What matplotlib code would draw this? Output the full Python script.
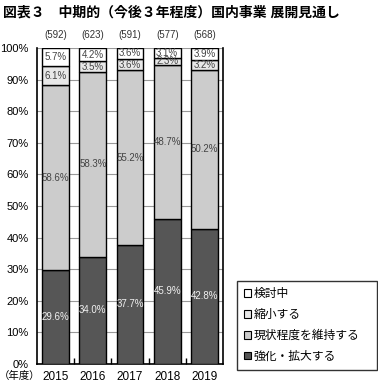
import matplotlib
matplotlib.use("Agg")
import matplotlib.pyplot as plt
from matplotlib.patches import Patch
import numpy as np

plt.rcParams['font.family'] = ['Liberation Sans', 'Noto Sans CJK JP', 'DejaVu Sans']

years = ["2015", "2016", "2017", "2018", "2019"]
counts = ["(592)", "(623)", "(591)", "(577)", "(568)"]
series_names = ["強化・拡大する", "現状程度を維持する", "縮小する", "検討中"]
expand = [29.6, 34.0, 37.7, 45.9, 42.8]
maintain = [58.6, 58.3, 55.2, 48.7, 50.2]
shrink = [6.1, 3.5, 3.6, 2.3, 3.2]
considering = [5.7, 4.2, 3.6, 3.1, 3.9]

colors = ["#565656", "#cccccc", "#e8e8e8", "#ffffff"]
text_colors = ["#f0f0f0", "#444444", "#444444", "#444444"]

fig = plt.figure(figsize=(3.78, 3.89), dpi=100)
ax = fig.add_axes([0.098, 0.0643, 0.492, 0.8123])

x = np.arange(len(years))
bottom = np.zeros(len(years))
data = [expand, maintain, shrink, considering]
for vals, col, tc in zip(data, colors, text_colors):
    vals = np.array(vals)
    ax.bar(x, vals, bottom=bottom, width=0.72, color=col, edgecolor="black",
           linewidth=1.0, zorder=3)
    for xi, b, v in zip(x, bottom, vals):
        ax.text(xi, b + v / 2, f"{v:.1f}%", ha="center", va="center",
                fontsize=7, color=tc, zorder=4)
    bottom += vals

for xi, c in zip(x, counts):
    ax.text(xi, 102.5, c, ha="center", va="bottom", fontsize=7, color="#333333")

ax.set_xlim(-0.5, 4.5)
ax.set_ylim(0, 100)
ax.set_yticks(np.arange(0, 101, 10))
ax.set_yticklabels([f"{v}%" for v in range(0, 101, 10)], fontsize=8)
ax.set_xticks(x)
ax.set_xticklabels(years, fontsize=8.5)
ax.tick_params(axis="x", length=0, pad=5)
ax.tick_params(axis="y", length=0, pad=6)
ax.set_xticks(np.arange(0.5, 4.5, 1), minor=True)
ax.tick_params(axis="x", which="minor", direction="in", length=4, width=1)
ax.yaxis.grid(True, color="#999999", linewidth=0.8, zorder=0)
ax.set_axisbelow(True)
ax.spines["top"].set_visible(False)
for s in ["left", "right", "bottom"]:
    ax.spines[s].set_linewidth(1.2)
    ax.spines[s].set_color("black")

fig.text(0.107, 0.034, "（年度）", fontsize=7.5, ha="right", va="center")

fig.text(0.008, 0.968, "図表３　中期的（今後３年程度）国内事業 展開見通し",
         fontsize=10, fontweight="bold", ha="left", va="center")

handles = [Patch(facecolor=colors[i], edgecolor="black", linewidth=0.8)
           for i in [3, 2, 1, 0]]
labels = [series_names[i] for i in [3, 2, 1, 0]]
leg = fig.legend(handles, labels, loc="lower left",
                 bbox_to_anchor=(0.627, 0.049, 0.37, 0.221), mode="expand",
                 fontsize=8.5, frameon=True, fancybox=False, edgecolor="black",
                 handlelength=0.6, handleheight=0.6, handletextpad=0.2,
                 labelspacing=0.75, borderpad=0.6, borderaxespad=0)
leg.get_frame().set_linewidth(1.0)

fig.savefig("out.png", dpi=100)
